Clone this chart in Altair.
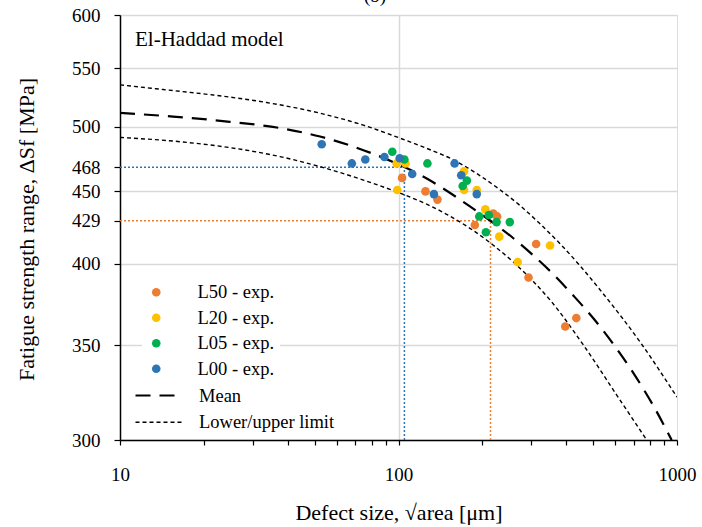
import altair as alt
import pandas as pd

# ---------------- data ----------------
series_names = ["L50 - exp.", "L20 - exp.", "L05 - exp.", "L00 - exp."]
series_colors = ["#ED7D31", "#FFC000", "#00B050", "#2E75B6"]

l50_x = [103, 125, 138, 188, 219, 226, 312, 293, 397, 435]
l50_y = [460, 450, 444, 426, 434, 432, 413, 391, 361, 366]
l20_x = [98.5, 106, 99, 172, 172, 191, 205, 230, 268, 350]
l20_y = [471, 471, 451, 465, 451, 451, 437, 418, 401, 412]
l05_x = [95, 105, 127, 170, 176, 195, 211, 225, 251, 206]
l05_y = [480, 474, 471, 454, 458, 432, 433, 428, 428, 421]
l00_x = [53, 68, 76, 89, 101, 112, 134, 159, 168, 191]
l00_y = [486, 471, 474, 476, 475, 463, 448, 471, 462, 448]

mean_x = [10, 15.5, 24.8, 37.5, 52.3, 74.8, 126.3, 180.5, 258.4, 304.8, 359.6, 424.3, 500.6, 590.6, 696.6, 821.9, 957]
mean_y = [511.4, 508.4, 504.1, 499.0, 492.1, 481.3, 459.5, 439.1, 416.9, 405.4, 393.1, 379.7, 365.9, 350.8, 334.7, 317.3, 300]
upper_x = [10, 14.3, 21.6, 33.6, 52.3, 74.8, 101.3, 126.3, 157.3, 190.9, 231.4, 273.2, 322.3, 380.2, 448.5, 529, 736.3, 1000]
upper_y = [535.4, 531.3, 526.6, 520.2, 511.2, 501.3, 490.8, 482.7, 473.8, 463.3, 451.2, 439.7, 426.8, 413.2, 398.6, 383.3, 352.1, 321.7]
lower_x = [10, 16.4, 24.8, 37.5, 52.3, 74.8, 101.3, 126.3, 148.9, 180.5, 218.9, 258.4, 304.8, 349.9, 459.7, 607.5, 778.5]
lower_y = [491.4, 488.0, 483.3, 476.3, 468.5, 458.4, 448.7, 440.7, 433.5, 423.7, 412.2, 401.0, 388.5, 377.0, 350.6, 322.8, 300]

ref_series = ["L00", "L50"]
ref_colors = ["#2E75B6", "#ED7D31"]
ref_size = [105, 214]
ref_strength = [468, 429]

y_ticks = [300, 350, 400, 429, 450, 468, 500, 550, 600]
x_ticks = [10, 20, 30, 40, 50, 60, 70, 80, 90, 100, 200, 300, 400, 500, 600, 700, 800, 900, 1000]

# ---------------- tables ----------------
rows = []
for name, xs, ys in zip(series_names, [l50_x, l20_x, l05_x, l00_x], [l50_y, l20_y, l05_y, l00_y]):
    for a, b in zip(xs, ys):
        rows.append({"size": a, "strength": b, "series": name})
points = pd.DataFrame(rows)

crow = []
for cid, kind, xs, ys in [("mean", "Mean", mean_x, mean_y),
                          ("upper", "Lower/upper limit", upper_x, upper_y),
                          ("lower", "Lower/upper limit", lower_x, lower_y)]:
    for i, (a, b) in enumerate(zip(xs, ys)):
        crow.append({"size": a, "strength": b, "curve": cid, "kind": kind, "order": i})
curves = pd.DataFrame(crow)

refs = pd.DataFrame({"series": ref_series, "col": ref_colors, "size": ref_size,
                     "strength": ref_strength, "x0": [10, 10], "y0": [300, 300]})

FONT = "Liberation Serif"

xscale = alt.Scale(type="log", domain=[10, 1000], nice=False)
yscale = alt.Scale(type="log", domain=[300, 600], nice=False)

xaxis = alt.Axis(
    values=x_ticks, format="d", title="Defect size, √area [μm]",
    labelExpr="(datum.value == 10 || datum.value == 100 || datum.value == 1000) ? datum.label : ''",
    labelOverlap=False, labelFlush=False, labelFont=FONT, labelFontSize=19, labelColor="black",
    labelPadding=20,
    tickColor="black", tickSize=5, tickWidth=1.2, domainColor="black", domainWidth=1.5,
    grid=True, gridColor="#d9d9d9", gridWidth=1.5,
    gridOpacity={"condition": {"test": "datum.value == 100", "value": 1}, "value": 0},
    titleFont=FONT, titleFontSize=22, titleFontWeight="normal", titleColor="black",
    titleY=72, titleBaseline="middle",
)
yaxis = alt.Axis(
    values=y_ticks, format="d", title="Fatigue strength range, ΔSf [MPa]",
    labelOverlap=False, labelFlush=False, labelFont=FONT, labelFontSize=19, labelColor="black",
    labelPadding=14,
    tickColor="black", tickSize=6, tickWidth=1.2, domainColor="black", domainWidth=1.5,
    grid=True, gridColor="#d9d9d9", gridWidth=1.5,
    gridOpacity={"condition": {"test": "datum.value == 429 || datum.value == 468", "value": 0}, "value": 1},
    titleFont=FONT, titleFontSize=22, titleFontWeight="normal", titleColor="black",
    titleX=-94, titleY=214, titleBaseline="middle", titleAlign="center", titleAngle=270,
)

X = alt.X("size:Q", scale=xscale, axis=xaxis)
Y = alt.Y("strength:Q", scale=yscale, axis=yaxis)

# reference dotted lines
ref_h = alt.Chart(refs).mark_rule(strokeDash=[2, 2], strokeWidth=1.5).encode(
    x=alt.X("x0:Q", scale=xscale, axis=xaxis), x2="size:Q", y=Y,
    color=alt.Color("col:N", scale=None))
ref_v = alt.Chart(refs).mark_rule(strokeDash=[2, 2], strokeWidth=1.5).encode(
    x=X, y=alt.Y("y0:Q", scale=yscale, axis=yaxis), y2="strength:Q",
    color=alt.Color("col:N", scale=None))

line_legend = alt.Legend(
    title=None, orient="none", legendX=25, legendY=366, fillColor="white", padding=5,
    labelFont=FONT, labelFontSize=18.5, labelColor="black",
    symbolType="M-3,0H3", symbolSize=256, labelOffset=30, rowPadding=8,
    symbolStrokeColor="black")

lines = alt.Chart(curves).mark_line(color="black", interpolate="monotone", clip=True).encode(
    x=X, y=Y, detail="curve:N", order="order:Q",
    strokeDash=alt.StrokeDash("kind:N", scale=alt.Scale(domain=["Mean", "Lower/upper limit"],
                                                         range=[[15, 9], [4, 3]]), legend=line_legend),
    strokeWidth=alt.StrokeWidth("kind:N", scale=alt.Scale(domain=["Mean", "Lower/upper limit"],
                                                           range=[2.2, 1.4]), legend=line_legend),
)

pts = alt.Chart(points).mark_circle(size=74, opacity=1).encode(
    x=X, y=Y,
    color=alt.Color("series:N", scale=alt.Scale(domain=series_names, range=series_colors),
                    legend=alt.Legend(title=None, orient="none", legendX=22, legendY=263,
                                      fillColor="white", padding=5, labelFont=FONT,
                                      labelFontSize=18.5, labelColor="black", symbolSize=74,
                                      symbolType="circle", labelOffset=32, rowPadding=6.5,
                                      symbolStrokeWidth=0)),
)

label = alt.Chart(pd.DataFrame({"t": ["El-Haddad model"]})).mark_text(
    align="left", baseline="middle", font=FONT, fontSize=21, color="black").encode(
    text="t:N", x=alt.value(15), y=alt.value(25))

top_title = alt.Chart(pd.DataFrame({"t": ["(b)"]})).mark_text(
    align="center", baseline="alphabetic", font=FONT, fontSize=19, color="black").encode(
    text="t:N", x=alt.value(255), y=alt.value(-13))

chart = alt.layer(ref_h, ref_v, lines, pts, label, top_title).properties(
    width=557, height=425,
    autosize=alt.AutoSizeParams(type="none"),
    padding={"left": 120, "top": 15, "right": 25, "bottom": 87},
).configure_view(stroke="black", strokeWidth=1.5).configure(background="white")

chart.save("out.html", embed_options={"renderer": "svg", "actions": False})
